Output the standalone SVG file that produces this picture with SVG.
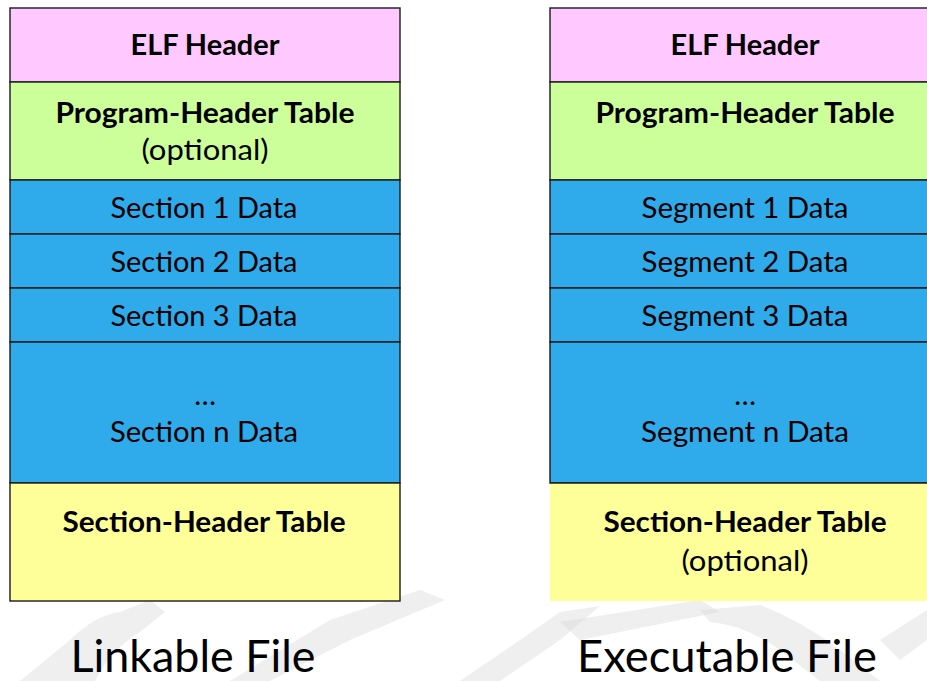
<svg xmlns="http://www.w3.org/2000/svg" width="927" height="681" viewBox="0 0 927 681">
<style>
.box{stroke:#1a1a1a;stroke-width:1.4}
.pink{fill:#FFC9FF}.green{fill:#CCFF99}.blue{fill:#2FAAEA}.yellow{fill:#FFFF99}
text{font-family:Lato,"Open Sans","Liberation Sans",sans-serif;fill:#000;text-anchor:middle}
.b{font-weight:bold;font-size:29px}
.r{font-size:29px}
.cap{font-size:44px}
.wm{fill:#d8d8d8;opacity:0.4}
</style>
<rect width="927" height="681" fill="#fff"/>
<g id="watermark">
<path class="wm" d="M20 681 L70 640 Q95 615 120 612 L150 600 L165 612 L140 632 Q110 650 95 681 Z"/>
<path class="wm" d="M230 681 L330 620 L420 590 L445 600 L350 640 L270 681 Z"/>
<path class="wm" d="M460 681 L520 640 L560 612 L600 606 L560 640 L500 681 Z"/>
<path class="wm" d="M560 622 L700 600 L720 612 L580 640 Z"/>
<path class="wm" d="M700 610 L760 605 Q800 620 840 650 L880 681 L820 681 L780 650 Q745 625 710 622 Z"/>
<path class="wm" d="M880 640 L927 610 L927 640 L900 660 Z"/>
</g>
<g id="linkable">
<g id="l-elf"><rect class="box pink" x="10" y="8" width="390" height="74"/><text class="b" x="205" y="55" textLength="149" lengthAdjust="spacingAndGlyphs">ELF Header</text></g>
<g id="l-pht"><rect class="box green" x="10" y="82" width="390" height="98"/><text class="b" x="205" y="123" textLength="299" lengthAdjust="spacingAndGlyphs">Program-Header Table</text><text class="r" x="205" y="160" textLength="127" lengthAdjust="spacingAndGlyphs">(optional)</text></g>
<g id="l-s1"><rect class="box blue" x="10" y="180" width="390" height="54"/><text class="r" x="204" y="218" textLength="187" lengthAdjust="spacingAndGlyphs">Section 1 Data</text></g>
<g id="l-s2"><rect class="box blue" x="10" y="234" width="390" height="54"/><text class="r" x="204" y="272" textLength="187" lengthAdjust="spacingAndGlyphs">Section 2 Data</text></g>
<g id="l-s3"><rect class="box blue" x="10" y="288" width="390" height="54"/><text class="r" x="204" y="326" textLength="187" lengthAdjust="spacingAndGlyphs">Section 3 Data</text></g>
<g id="l-sn"><rect class="box blue" x="10" y="342" width="390" height="141"/><text class="r" x="205" y="405">…</text><text class="r" x="204" y="442" textLength="188" lengthAdjust="spacingAndGlyphs">Section n Data</text></g>
<g id="l-sht"><rect class="box yellow" x="10" y="483" width="390" height="118"/><text class="b" x="204" y="532" textLength="283" lengthAdjust="spacingAndGlyphs">Section-Header Table</text></g>
<text class="cap" x="193" y="672" textLength="245" lengthAdjust="spacingAndGlyphs">Linkable File</text>
</g>
<g id="executable">
<g id="e-elf"><rect class="box pink" x="550" y="8" width="390" height="74"/><text class="b" x="745" y="55" textLength="149" lengthAdjust="spacingAndGlyphs">ELF Header</text></g>
<g id="e-pht"><rect class="box green" x="550" y="82" width="390" height="98"/><text class="b" x="745" y="123" textLength="299" lengthAdjust="spacingAndGlyphs">Program-Header Table</text></g>
<g id="e-s1"><rect class="box blue" x="550" y="180" width="390" height="54"/><text class="r" x="745" y="218" textLength="207" lengthAdjust="spacingAndGlyphs">Segment 1 Data</text></g>
<g id="e-s2"><rect class="box blue" x="550" y="234" width="390" height="54"/><text class="r" x="745" y="272" textLength="207" lengthAdjust="spacingAndGlyphs">Segment 2 Data</text></g>
<g id="e-s3"><rect class="box blue" x="550" y="288" width="390" height="54"/><text class="r" x="745" y="326" textLength="207" lengthAdjust="spacingAndGlyphs">Segment 3 Data</text></g>
<g id="e-sn"><rect class="box blue" x="550" y="342" width="390" height="141"/><text class="r" x="745" y="405">…</text><text class="r" x="745" y="442" textLength="208" lengthAdjust="spacingAndGlyphs">Segment n Data</text></g>
<g id="e-sht"><rect class="yellow" x="550" y="483" width="390" height="118"/><line class="box" x1="550" y1="483" x2="940" y2="483"/><text class="b" x="745" y="532" textLength="283" lengthAdjust="spacingAndGlyphs">Section-Header Table</text><text class="r" x="745" y="571" textLength="127" lengthAdjust="spacingAndGlyphs">(optional)</text></g>
<text class="cap" x="727" y="672" textLength="300" lengthAdjust="spacingAndGlyphs">Executable File</text>
</g>
</svg>
